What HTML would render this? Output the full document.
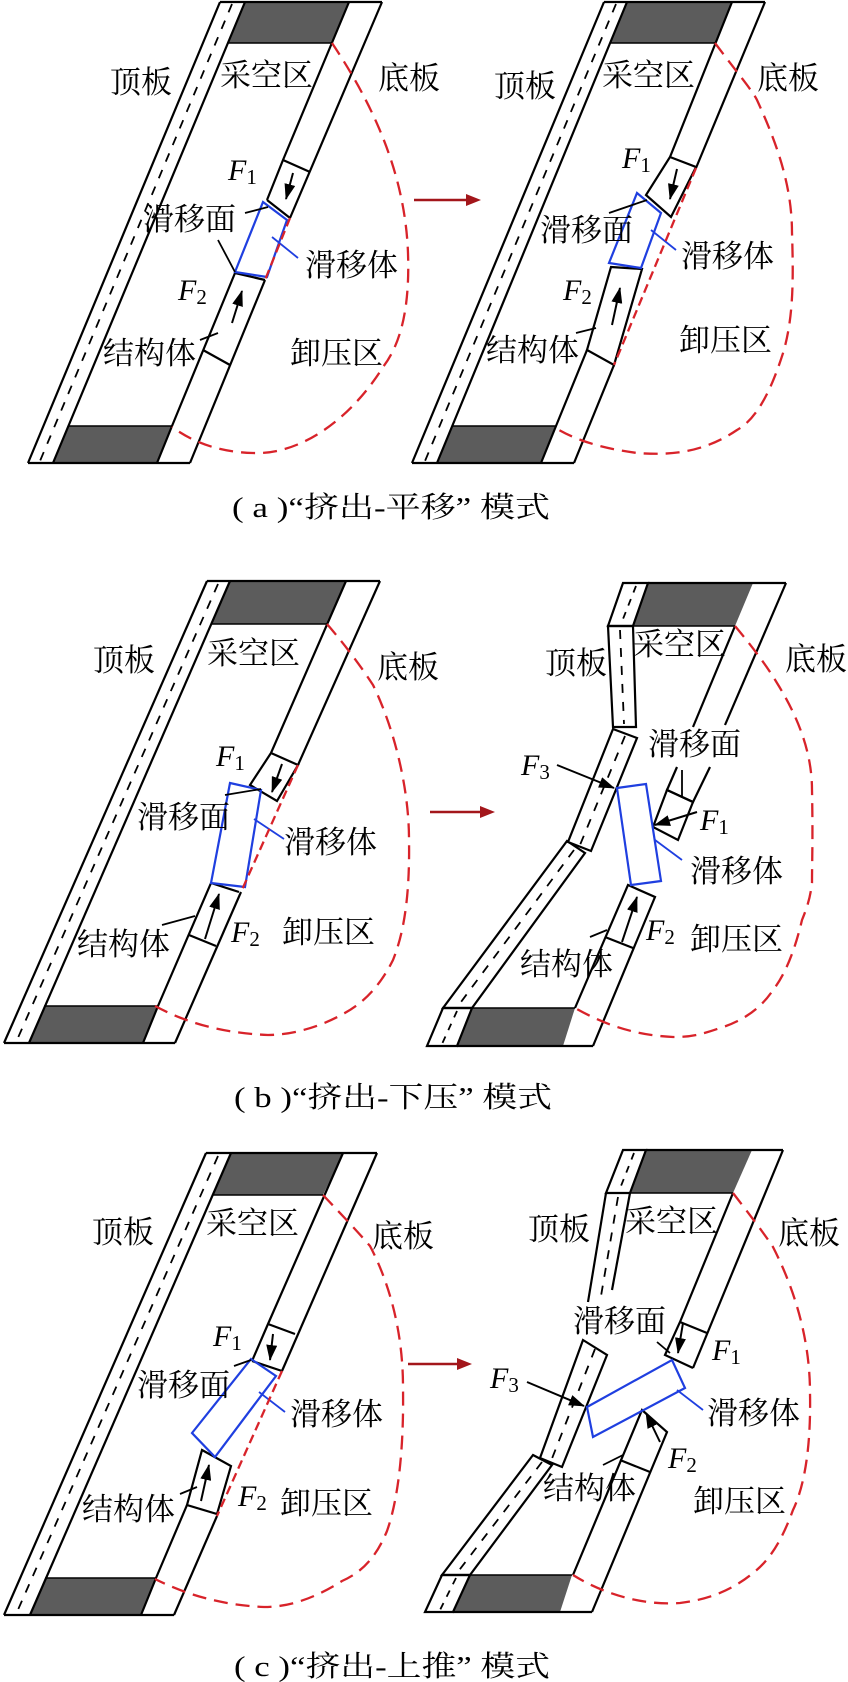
<!DOCTYPE html>
<html><head><meta charset="utf-8"><style>
html,body{margin:0;padding:0;background:#fff;}
svg{display:block;}
.cn{font-family:"Liberation Serif","Noto Serif CJK SC","Noto Sans CJK SC",serif;font-size:31px;fill:#000;}
.f{font-family:"Liberation Serif",serif;font-style:italic;font-size:30px;fill:#000;}
.s{font-style:normal;font-size:21px;}
.cap{font-family:"Liberation Serif","Noto Serif CJK SC","Noto Sans CJK SC",serif;font-size:29px;fill:#000;}
</style></head><body>
<svg width="848" height="1682" viewBox="0 0 848 1682" xmlns="http://www.w3.org/2000/svg">
<defs>
<marker id="ahs" markerWidth="16" markerHeight="11" refX="15" refY="5.5" orient="auto" markerUnits="userSpaceOnUse"><path d="M0,0 L16,5.5 L0,11 z" fill="#000"/></marker>
</defs>
<g fill="none" stroke="#000" stroke-width="2.2" stroke-linejoin="miter">

<!-- ================= (a) LEFT ================= -->
<polygon points="245,2 349,2 332,43 228,43" fill="#5c5c5c" stroke="none"/>
<polygon points="68,426 172,426 157,463 53,463" fill="#5c5c5c" stroke="none"/>
<line x1="228" y1="43" x2="332" y2="43" stroke-width="1.5"/>
<line x1="68" y1="426" x2="172" y2="426" stroke-width="1.5"/>
<line x1="232" y1="4" x2="40" y2="461" stroke-dasharray="9,9" stroke-width="1.8"/>
<polyline points="220,2 382,2"/>
<polyline points="28,463 190,463"/>
<line x1="220" y1="2" x2="28" y2="463"/>
<line x1="245" y1="2" x2="53" y2="463"/>
<line x1="382" y1="2" x2="290" y2="218"/>
<line x1="265" y1="280" x2="190" y2="463"/>
<polyline points="349,2 283,160 267,200"/>
<line x1="283" y1="160" x2="310" y2="172"/>
<line x1="267" y1="200" x2="290" y2="218"/>
<polyline points="235,273 172,426 157,463"/>
<line x1="235" y1="273" x2="265" y2="280"/>
<line x1="203" y1="350" x2="230" y2="365"/>
<line x1="293" y1="173" x2="286" y2="199" stroke-width="2" marker-end="url(#ahs)"/>
<line x1="232" y1="323" x2="242" y2="291" stroke-width="2" marker-end="url(#ahs)"/>
<polygon points="263,202 287,220 267,277 235,272" stroke="#1f3fe0"/>
<line x1="272" y1="237" x2="298" y2="258" stroke="#1f3fe0" stroke-width="1.8"/>
<line x1="245" y1="213" x2="268" y2="207" stroke-width="1.8"/>
<line x1="218" y1="240" x2="235" y2="272" stroke-width="1.8"/>
<line x1="200" y1="340" x2="218" y2="333" stroke-width="1.8"/>
<path d="M290,218 L265,280" stroke="#d8232a" stroke-dasharray="9,5" stroke-width="2.3"/>
<path d="M332,43 C370,100 405,170 408,253 C410,310 400,345 383,367 C350,420 300,455 253,453 C215,452 190,440 172,427" stroke="#d8232a" stroke-dasharray="14,8" stroke-width="2.3"/>

<!-- arrow a -->
<line x1="414" y1="200" x2="466" y2="200" stroke="#a3161b" stroke-width="2.5"/>
<polygon points="466,194 481,200 466,206" fill="#a3161b" stroke="none"/>

<!-- ================= (a) RIGHT ================= -->
<polygon points="627,2 732,2 715,43 610,43" fill="#5c5c5c" stroke="none"/>
<polygon points="452,426 556,426 541,463 437,463" fill="#5c5c5c" stroke="none"/>
<line x1="610" y1="43" x2="715" y2="43" stroke-width="1.5"/>
<line x1="452" y1="426" x2="556" y2="426" stroke-width="1.5"/>
<line x1="616" y1="4" x2="425" y2="461" stroke-dasharray="9,9" stroke-width="1.8"/>
<polyline points="604,2 765,2"/>
<polyline points="412,463 574,463"/>
<line x1="604" y1="2" x2="412" y2="463"/>
<line x1="627" y1="2" x2="437" y2="463"/>
<line x1="765" y1="2" x2="696" y2="168"/>
<line x1="614" y1="365" x2="574" y2="463"/>
<polyline points="732,2 670,157 646,195 671,217 696,167 670,157"/>
<polygon points="611,267 642,269 614,365 587,350"/>
<polyline points="587,350 556,426 541,463"/>
<line x1="677" y1="169" x2="670" y2="199" stroke-width="2" marker-end="url(#ahs)"/>
<line x1="612" y1="325" x2="620" y2="288" stroke-width="2" marker-end="url(#ahs)"/>
<polygon points="637,193 661,213 641,268 609,263" stroke="#1f3fe0"/>
<line x1="651" y1="230" x2="676" y2="250" stroke="#1f3fe0" stroke-width="1.8"/>
<line x1="609" y1="213" x2="647" y2="200" stroke-width="1.8"/>
<line x1="576" y1="333" x2="596" y2="328" stroke-width="1.8"/>
<path d="M696,168 L614,365" stroke="#d8232a" stroke-dasharray="9,5" stroke-width="2.3"/>
<path d="M715,43 C735,70 752,90 757,100 C780,150 792,190 792,233 C794,290 792,320 784,350 C770,395 755,420 737,430 C700,455 665,455 637,453 C600,448 575,440 554,427" stroke="#d8232a" stroke-dasharray="14,8" stroke-width="2.3"/>

<!-- ================= (b) LEFT ================= -->
<polygon points="230,581 346,581 327,624 212,624" fill="#5c5c5c" stroke="none"/>
<polygon points="44,1006 158,1006 143,1043 29,1043" fill="#5c5c5c" stroke="none"/>
<line x1="212" y1="624" x2="327" y2="624" stroke-width="1.5"/>
<line x1="44" y1="1006" x2="158" y2="1006" stroke-width="1.5"/>
<line x1="218" y1="584" x2="17" y2="1040" stroke-dasharray="9,9" stroke-width="1.8"/>
<polyline points="207,581 380,581"/>
<polyline points="4,1043 175,1043"/>
<line x1="207" y1="581" x2="4" y2="1043"/>
<line x1="230" y1="581" x2="29" y2="1043"/>
<line x1="380" y1="581" x2="298" y2="765"/>
<line x1="241" y1="892" x2="175" y2="1043"/>
<polyline points="346,581 271,753 250,785 277,801 298,765 271,753"/>
<polyline points="211,883 158,1006 143,1043"/>
<line x1="211" y1="883" x2="239" y2="892"/>
<line x1="189" y1="935" x2="216" y2="946"/>
<line x1="282" y1="764" x2="272" y2="792" stroke-width="2" marker-end="url(#ahs)"/>
<line x1="205" y1="939" x2="219" y2="894" stroke-width="2" marker-end="url(#ahs)"/>
<polygon points="230,783 261,790 245,887 211,883" stroke="#1f3fe0"/>
<line x1="254" y1="819" x2="284" y2="839" stroke="#1f3fe0" stroke-width="1.8"/>
<line x1="225" y1="795" x2="261" y2="789" stroke-width="1.8"/>
<line x1="162" y1="925" x2="195" y2="916" stroke-width="1.8"/>
<path d="M298,765 L241,892" stroke="#d8232a" stroke-dasharray="9,5" stroke-width="2.3"/>
<path d="M327,624 C345,645 360,665 373,685 C395,730 409,790 409,839 C410,900 403,935 393,960 C378,990 360,1005 343,1014 C318,1028 290,1035 268,1035 C220,1033 185,1022 155,1006" stroke="#d8232a" stroke-dasharray="14,8" stroke-width="2.3"/>

<!-- arrow b -->
<line x1="430" y1="812" x2="480" y2="812" stroke="#a3161b" stroke-width="2.5"/>
<polygon points="480,806 495,812 480,818" fill="#a3161b" stroke="none"/>

<!-- ================= (b) RIGHT ================= -->
<polygon points="648,583 753,583 735,626 633,626" fill="#5c5c5c" stroke="none"/>
<polygon points="472,1008 575,1008 563,1046 457,1046" fill="#5c5c5c" stroke="none"/>
<line x1="633" y1="626" x2="735" y2="626" stroke-width="1.5"/>
<line x1="472" y1="1008" x2="575" y2="1008" stroke-width="1.5"/>
<polygon points="623,583 648,583 633,626 608,626"/>
<line x1="636" y1="586" x2="621" y2="624" stroke-dasharray="7,7" stroke-width="1.8"/>
<line x1="648" y1="583" x2="786" y2="583"/>
<polygon points="608,626 633,626 636,727 613,727"/>
<line x1="620" y1="630" x2="624" y2="724" stroke-dasharray="9,9" stroke-width="1.8"/>
<polygon points="613,729 637,738 591,851 568,842"/>
<line x1="625" y1="736" x2="580" y2="845" stroke-dasharray="9,9" stroke-width="1.8"/>
<polygon points="567,841 585,853 472,1008 443,1008"/>
<line x1="574" y1="850" x2="458" y2="1006" stroke-dasharray="9,9" stroke-width="1.8"/>
<polygon points="443,1008 472,1008 457,1046 427,1046"/>
<line x1="457" y1="1011" x2="442" y2="1044" stroke-dasharray="7,7" stroke-width="1.8"/>
<line x1="457" y1="1046" x2="593" y2="1046"/>
<line x1="735" y1="626" x2="693" y2="727"/>
<line x1="786" y1="583" x2="725" y2="725"/>
<polyline points="677,767 667,790 693,802 710,767"/>
<polygon points="667,790 693,802 678,840 653,827"/>
<line x1="682" y1="770" x2="682" y2="797" stroke-width="1.8"/>
<polyline points="593,1046 655,897 628,885 575,1008"/>
<line x1="605" y1="937" x2="633" y2="948"/>
<line x1="622" y1="942" x2="637" y2="897" stroke-width="2" marker-end="url(#ahs)"/>
<line x1="697" y1="812" x2="655" y2="825" stroke-width="2" marker-end="url(#ahs)"/>
<line x1="557" y1="765" x2="614" y2="788" stroke-width="2" marker-end="url(#ahs)"/>
<polygon points="617,788 646,784 661,881 631,885" stroke="#1f3fe0"/>
<line x1="655" y1="840" x2="682" y2="860" stroke="#1f3fe0" stroke-width="1.8"/>
<line x1="590" y1="937" x2="607" y2="930" stroke-width="1.8"/>
<path d="M735,626 C755,650 768,668 777,683 C800,720 812,755 812,790 C813,840 812,860 812,883 C810,900 806,910 802,920 C795,950 785,975 773,990 C760,1010 740,1022 720,1028 C700,1035 690,1037 673,1037 C630,1035 600,1022 575,1008" stroke="#d8232a" stroke-dasharray="14,8" stroke-width="2.3"/>

<!-- ================= (c) LEFT ================= -->
<polygon points="231,1153 343,1153 323,1195 213,1195" fill="#5c5c5c" stroke="none"/>
<polygon points="45,1578 156,1578 141,1615 30,1615" fill="#5c5c5c" stroke="none"/>
<line x1="213" y1="1195" x2="323" y2="1195" stroke-width="1.5"/>
<line x1="45" y1="1578" x2="156" y2="1578" stroke-width="1.5"/>
<line x1="218" y1="1156" x2="17" y2="1612" stroke-dasharray="9,9" stroke-width="1.8"/>
<polyline points="206,1153 377,1153"/>
<polyline points="4,1615 174,1615"/>
<line x1="206" y1="1153" x2="4" y2="1615"/>
<line x1="231" y1="1153" x2="30" y2="1615"/>
<line x1="377" y1="1153" x2="282" y2="1371"/>
<line x1="217" y1="1516" x2="174" y2="1615"/>
<polyline points="343,1153 268,1324 252,1361"/>
<line x1="268" y1="1324" x2="295" y2="1334"/>
<line x1="252" y1="1361" x2="282" y2="1371"/>
<polygon points="202,1450 231,1466 217,1514 187,1505"/>
<polyline points="187,1505 156,1578 141,1615"/>
<line x1="273" y1="1334" x2="270" y2="1360" stroke-width="2" marker-end="url(#ahs)"/>
<line x1="201" y1="1501" x2="209" y2="1465" stroke-width="2" marker-end="url(#ahs)"/>
<polygon points="251,1359 276,1376 215,1457 192,1433" stroke="#1f3fe0"/>
<line x1="259" y1="1392" x2="285" y2="1412" stroke="#1f3fe0" stroke-width="1.8"/>
<line x1="234" y1="1366" x2="251" y2="1360" stroke-width="1.8"/>
<line x1="180" y1="1494" x2="197" y2="1487" stroke-width="1.8"/>
<path d="M282,1371 L217,1516" stroke="#d8232a" stroke-dasharray="9,5" stroke-width="2.3"/>
<path d="M323,1195 C342,1215 358,1232 370,1246 C393,1290 403,1340 403,1387 C404,1450 398,1500 387,1531 C375,1560 360,1573 342,1581 C315,1598 290,1607 264,1607 C220,1605 185,1594 155,1579" stroke="#d8232a" stroke-dasharray="14,8" stroke-width="2.3"/>

<!-- arrow c -->
<line x1="408" y1="1364" x2="457" y2="1364" stroke="#a3161b" stroke-width="2.5"/>
<polygon points="457,1358 472,1364 457,1370" fill="#a3161b" stroke="none"/>

<!-- ================= (c) RIGHT ================= -->
<polygon points="646,1150 752,1150 733,1193 630,1193" fill="#5c5c5c" stroke="none"/>
<polygon points="470,1575 572,1575 560,1612 453,1612" fill="#5c5c5c" stroke="none"/>
<line x1="630" y1="1193" x2="733" y2="1193" stroke-width="1.5"/>
<line x1="470" y1="1575" x2="572" y2="1575" stroke-width="1.5"/>
<polygon points="623,1150 646,1150 630,1193 606,1193"/>
<line x1="634" y1="1153" x2="619" y2="1191" stroke-dasharray="7,7" stroke-width="1.8"/>
<line x1="646" y1="1150" x2="783" y2="1150"/>
<polyline points="606,1193 588,1302"/>
<polyline points="630,1193 612,1290"/>
<line x1="618" y1="1197" x2="601" y2="1296" stroke-dasharray="9,9" stroke-width="1.8"/>
<polygon points="583,1340 607,1355 562,1467 540,1458"/>
<line x1="595" y1="1349" x2="551" y2="1461" stroke-dasharray="9,9" stroke-width="1.8"/>
<polygon points="533,1455 552,1465 470,1575 442,1575"/>
<line x1="542" y1="1462" x2="457" y2="1573" stroke-dasharray="9,9" stroke-width="1.8"/>
<polygon points="442,1575 470,1575 453,1612 425,1612"/>
<line x1="456" y1="1578" x2="440" y2="1610" stroke-dasharray="7,7" stroke-width="1.8"/>
<line x1="453" y1="1612" x2="592" y2="1612"/>
<line x1="783" y1="1150" x2="693" y2="1368"/>
<polyline points="733,1193 680,1322 665,1355 693,1368"/>
<line x1="680" y1="1322" x2="707" y2="1333"/>
<polyline points="592,1612 667,1432 642,1410 573,1575"/>
<line x1="620" y1="1460" x2="650" y2="1472"/>
<line x1="683" y1="1323" x2="678" y2="1353" stroke-width="2" marker-end="url(#ahs)"/>
<line x1="660" y1="1442" x2="646" y2="1413" stroke-width="2" marker-end="url(#ahs)"/>
<line x1="527" y1="1382" x2="584" y2="1406" stroke-width="2" marker-end="url(#ahs)"/>
<polygon points="587,1407 672,1360 685,1388 593,1437" stroke="#1f3fe0"/>
<line x1="677" y1="1390" x2="703" y2="1410" stroke="#1f3fe0" stroke-width="1.8"/>
<line x1="657" y1="1342" x2="670" y2="1353" stroke-width="1.8"/>
<line x1="603" y1="1465" x2="623" y2="1455" stroke-width="1.8"/>
<path d="M733,1193 C750,1215 763,1232 773,1247 C795,1290 810,1340 810,1393 C811,1445 805,1485 793,1510 C782,1540 770,1560 753,1573 C730,1592 705,1600 680,1603 C640,1606 600,1592 573,1575" stroke="#d8232a" stroke-dasharray="14,8" stroke-width="2.3"/>
</g>

<g class="cn">
<text x="110" y="93">顶板</text>
<text x="220" y="86">采空区</text>
<text x="378" y="89">底板</text>
<text x="143" y="230">滑移面</text>
<text x="305" y="276">滑移体</text>
<text x="103" y="364">结构体</text>
<text x="290" y="364">卸压区</text>
<text x="494" y="97">顶板</text>
<text x="602" y="86">采空区</text>
<text x="757" y="89">底板</text>
<text x="540" y="241">滑移面</text>
<text x="681" y="267">滑移体</text>
<text x="486" y="361">结构体</text>
<text x="679" y="351">卸压区</text>
<text x="93" y="671">顶板</text>
<text x="207" y="664">采空区</text>
<text x="377" y="678">底板</text>
<text x="137" y="828">滑移面</text>
<text x="284" y="853">滑移体</text>
<text x="77" y="955">结构体</text>
<text x="282" y="943">卸压区</text>
<text x="545" y="674">顶板</text>
<text x="633" y="655">采空区</text>
<text x="785" y="670">底板</text>
<text x="648" y="755">滑移面</text>
<text x="690" y="882">滑移体</text>
<text x="520" y="975">结构体</text>
<text x="690" y="950">卸压区</text>
<text x="92" y="1243">顶板</text>
<text x="206" y="1234">采空区</text>
<text x="372" y="1247">底板</text>
<text x="137" y="1396">滑移面</text>
<text x="290" y="1425">滑移体</text>
<text x="82" y="1520">结构体</text>
<text x="280" y="1514">卸压区</text>
<text x="528" y="1240">顶板</text>
<text x="625" y="1232">采空区</text>
<text x="778" y="1244">底板</text>
<text x="573" y="1332">滑移面</text>
<text x="707" y="1424">滑移体</text>
<text x="543" y="1499">结构体</text>
<text x="693" y="1512">卸压区</text>
</g>

<g class="f">
<text x="228" y="180">F<tspan class="s" dy="4">1</tspan></text>
<text x="178" y="300">F<tspan class="s" dy="4">2</tspan></text>
<text x="622" y="168">F<tspan class="s" dy="4">1</tspan></text>
<text x="563" y="300">F<tspan class="s" dy="4">2</tspan></text>
<text x="216" y="766">F<tspan class="s" dy="4">1</tspan></text>
<text x="231" y="942">F<tspan class="s" dy="4">2</tspan></text>
<text x="700" y="830">F<tspan class="s" dy="4">1</tspan></text>
<text x="646" y="940">F<tspan class="s" dy="4">2</tspan></text>
<text x="521" y="775">F<tspan class="s" dy="4">3</tspan></text>
<text x="213" y="1346">F<tspan class="s" dy="4">1</tspan></text>
<text x="238" y="1506">F<tspan class="s" dy="4">2</tspan></text>
<text x="712" y="1360">F<tspan class="s" dy="4">1</tspan></text>
<text x="668" y="1468">F<tspan class="s" dy="4">2</tspan></text>
<text x="490" y="1388">F<tspan class="s" dy="4">3</tspan></text>
</g>

<g class="cap">
<text x="232" y="517" textLength="318" lengthAdjust="spacingAndGlyphs">( a )“挤出-平移” 模式</text>
<text x="234" y="1107" textLength="318" lengthAdjust="spacingAndGlyphs">( b )“挤出-下压” 模式</text>
<text x="234" y="1676" textLength="316" lengthAdjust="spacingAndGlyphs">( c )“挤出-上推” 模式</text>
</g>
</svg>
</body></html>
